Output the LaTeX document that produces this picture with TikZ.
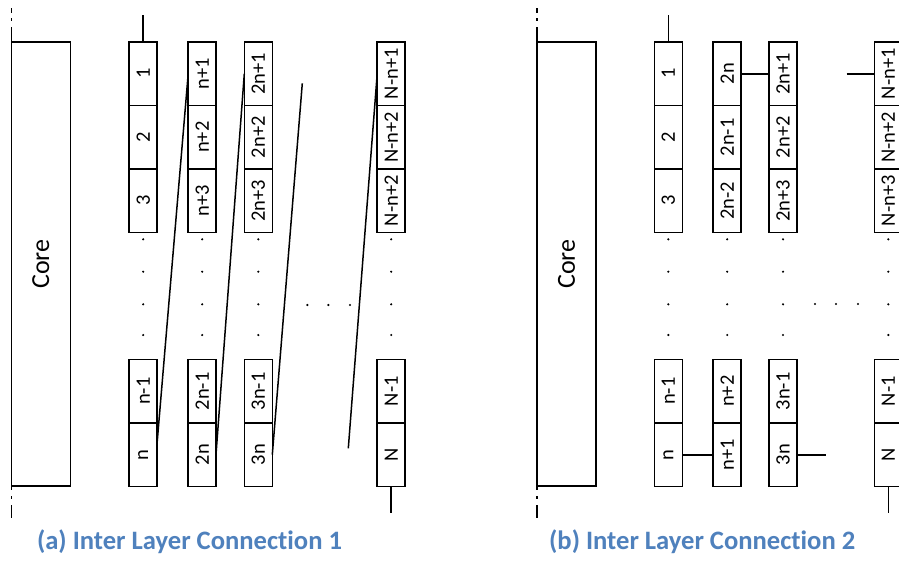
\documentclass[tikz,border=0pt]{standalone}
\usepackage{fontspec}
\setmainfont{Carlito}[Ligatures=NoCommon]
\usetikzlibrary{calc}
\definecolor{capblue}{RGB}{79,129,189}
\newcommand\vlabel[1]{\rotatebox{90}{#1}}
\tikzset{
  cell/.style={draw, line width=1.6pt, outer sep=0pt, inner sep=0pt,
    minimum width=28pt, minimum height=63.5pt,
    font=\fontsize{20.5}{24}\selectfont},
  corebox/.style={draw, line width=1.4pt, outer sep=0pt, inner sep=0pt,
    minimum width=59pt, minimum height=444pt,
    font=\fontsize{26}{30}\selectfont},
  wire/.style={line width=1.5pt},
  guide/.style={line width=1.4pt},
  caption/.style={text=capblue, anchor=base,
    font=\bfseries\fontsize{26.6}{30}\selectfont},
}
\begin{document}
\begin{tikzpicture}[x=1pt, y=-1pt]
  \path[fill=white, use as bounding box] (0,0) rectangle (899,562);

  % cores
  \node[corebox] (coreA) at (40.7,264) {\vlabel{Core}};
  \node[corebox] (coreB) at (566.5,264) {\vlabel{Core}};

  % dash-dot guides at the left of each core
  \foreach \c in {coreA, coreB}{
    \draw[guide] (\c.north west) -- ++(0,-15);
    \draw[guide] ($(\c.north west)+(0,-24)$) -- ++(0,2.5);
    \draw[guide] ($(\c.north west)+(0,-34)$) -- ++(0,4.5);
    \draw[guide] (\c.south west) -- ++(0,4);
    \draw[guide] ($(\c.south west)+(0,10)$) -- ++(0,2.5);
    \draw[guide] ($(\c.south west)+(0,19)$) -- ++(0,13);
  }

  % register columns: three cells on top, two at the bottom
  \foreach \col/\x/\ta/\tb/\tc/\td/\te in {
      a1/143.2/1/2/3/n-1/n,
      a2/202.2/n+1/n+2/n+3/2n-1/2n,
      a3/258.3/2n+1/2n+2/2n+3/3n-1/3n,
      a4/391.2/N-n+1/N-n+2/N-n+2/N-1/N,
      b1/668.3/1/2/3/n-1/n,
      b2/727.2/2n/2n-1/2n-2/n+2/n+1,
      b3/783.0/2n+1/2n+2/2n+3/3n-1/3n,
      b4/888.3/N-n+1/N-n+2/N-n+3/N-1/N}{
    \node[cell] (\col-1) at (\x,73.75)  {\vlabel{\ta}};
    \node[cell] (\col-2) at (\x,137.25) {\vlabel{\tb}};
    \node[cell] (\col-3) at (\x,200.75) {\vlabel{\tc}};
    \node[cell] (\col-4) at (\x,391.25) {\vlabel{\td}};
    \node[cell] (\col-5) at (\x,454.75) {\vlabel{\te}};
    \foreach \y in {239.3,271.7,304.3,335}
      \fill (\x,\y) circle (1.2pt);
  }

  % horizontal ellipses between columns
  \foreach \x in {307.3,328.3,350} \fill (\x,305) circle (1.2pt);
  \foreach \x in {815,836,858} \fill (\x,304) circle (1.2pt);

  % input and output wires
  \draw[wire] (a1-1.north) -- ++(0,-27);
  \draw[wire] (a4-5.south) -- ++(0,26.5);
  \draw[wire] (b1-1.north) -- ++(0,-27);
  \draw[wire] (b4-5.south) -- ++(0,26.5);

  % scheme 1: diagonal links from column bottom to next column top
  \coordinate (a3end) at (302.3,83.3);
  \coordinate (a4start) at (348.3,448.3);
  \draw[wire] ($(a1-5.east)+(0,-13)$) -- (a2-1.west);
  \draw[wire] ($(a2-5.east)+(0,-3)$) -- (a3-1.west);
  \draw[wire] (a3-5.east) -- (a3end);
  \draw[wire] (a4start) -- (a4-1.west);

  % scheme 2: snake links between neighbouring columns
  \coordinate (b3stub) at (825.7,454.75);
  \coordinate (b4stub) at (846.7,73.75);
  \draw[wire] (b1-5.east) -- (b2-5.west);
  \draw[wire] (b2-1.east) -- (b3-1.west);
  \draw[wire] (b3-5.east) -- (b3stub);
  \draw[wire] (b4stub) -- (b4-1.west);

  % captions
  \node[caption] (capA) at (189.5,549.3) {(a) Inter Layer Connection 1};
  \node[caption] (capB) at (702.2,549.3) {(b) Inter Layer Connection 2};
\end{tikzpicture}
\end{document}
